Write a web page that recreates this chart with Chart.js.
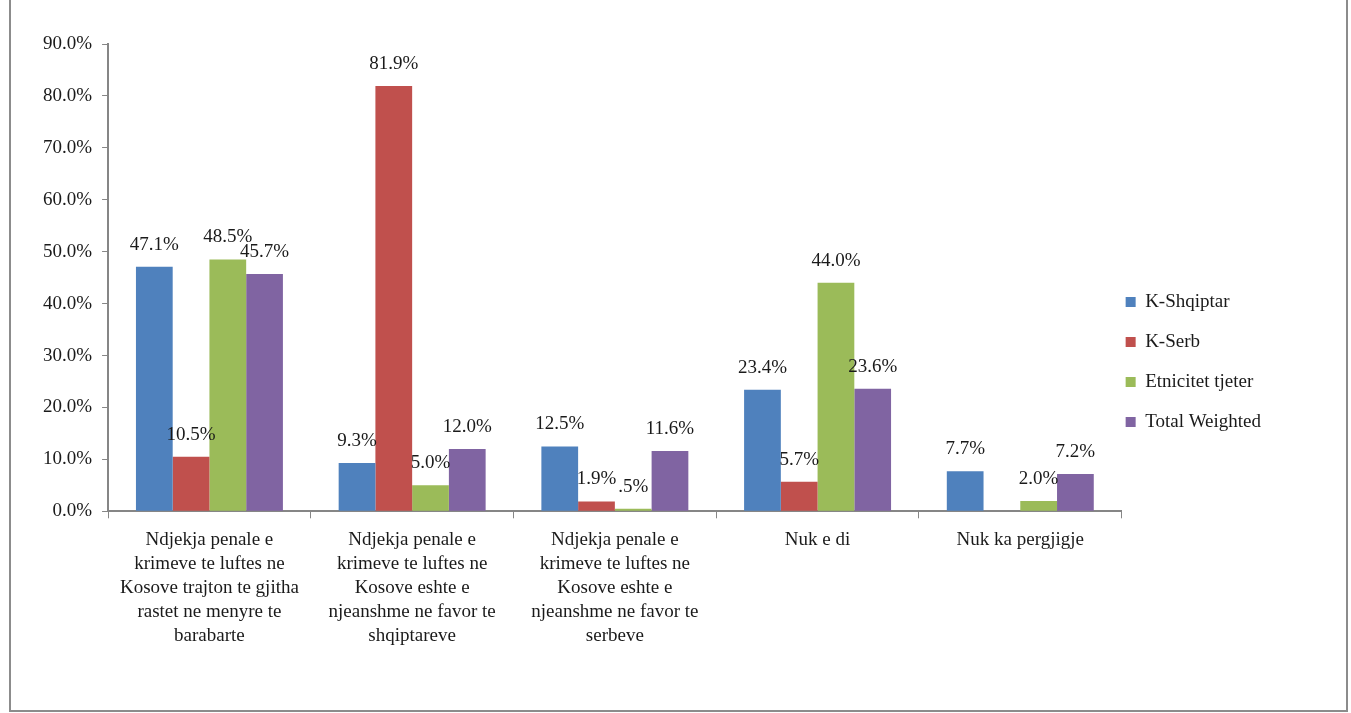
<!DOCTYPE html>
<html>
<head>
<meta charset="utf-8">
<script src="https://cdn.jsdelivr.net/npm/chart.js@4.4.1/dist/chart.umd.min.js"></script>
<style>
  html, body { margin: 0; padding: 0; background: #fff; }
  #wrap { position: relative; width: 1351px; height: 713px; }
</style>
</head>
<body>
<div id="wrap"><canvas id="c"></canvas></div>
<script>
var categories = [
	["Ndjekja penale e", "krimeve te luftes ne", "Kosove trajton te gjitha", "rastet ne menyre te", "barabarte"],
	["Ndjekja penale e", "krimeve te luftes ne", "Kosove eshte e", "njeanshme ne favor te", "shqiptareve"],
	["Ndjekja penale e", "krimeve te luftes ne", "Kosove eshte e", "njeanshme ne favor te", "serbeve"],
	"Nuk e di",
	"Nuk ka pergjigje"
];
var kShqiptar = [47.1, 9.3, 12.5, 23.4, 7.7];
var kSerb = [10.5, 81.9, 1.9, 5.7, null];
var etnicitetTjeter = [48.5, 5.0, 0.5, 44.0, 2.0];
var totalWeighted = [45.7, 12.0, 11.6, 23.6, 7.2];
var yTicks = [0, 10, 20, 30, 40, 50, 60, 70, 80, 90];

var FONT = "'Liberation Serif', 'DejaVu Serif', serif";
var AXIS = '#868686';

function pct(v) {
	var s = v.toFixed(1);
	if (s.charAt(0) === '0') s = s.slice(1);
	return s + '%';
}

// frame around the whole chart
var framePlugin = {
	id: 'frame',
	beforeDraw: function(chart) {
		var ctx = chart.ctx;
		ctx.save();
		ctx.fillStyle = '#fff';
		ctx.fillRect(0, 0, chart.width, chart.height);
		ctx.strokeStyle = '#8c8c8c';
		ctx.lineWidth = 2;
		ctx.strokeRect(10, -2, 1337, 713);
		ctx.restore();
	}
};

// nudge the legend closer to the plot and a bit lower, like the original
var legendShift = {
	id: 'legendShift',
	afterLayout: function(chart) {
		var lg = chart.legend;
		if (!lg) return;
		var dx = -17, dy = 11;
		lg.left += dx; lg.right += dx;
		lg.top += dy; lg.bottom += dy;
	}
};

// value labels above bars
var valuePlugin = {
	id: 'values',
	afterDatasetsDraw: function(chart) {
		var ctx = chart.ctx;
		ctx.save();
		ctx.font = '19px ' + FONT;
		ctx.fillStyle = '#1a1a1a';
		ctx.textAlign = 'center';
		ctx.textBaseline = 'alphabetic';
		chart.data.datasets.forEach(function(ds, i) {
			var meta = chart.getDatasetMeta(i);
			meta.data.forEach(function(bar, j) {
				var v = ds.data[j];
				if (v === null || v === undefined) return;
				ctx.fillText(pct(v), bar.x, bar.y - 17);
			});
		});
		ctx.restore();
	}
};

var config = {
	type: 'bar',
	data: {
		labels: categories,
		datasets: [{
			label: 'K-Shqiptar',
			data: kShqiptar,
			backgroundColor: '#4F81BD'
		}, {
			label: 'K-Serb',
			data: kSerb,
			backgroundColor: '#C0504D'
		}, {
			label: 'Etnicitet tjeter',
			data: etnicitetTjeter,
			backgroundColor: '#9BBB59'
		}, {
			label: 'Total Weighted',
			data: totalWeighted,
			backgroundColor: '#8064A2'
		}]
	},
	options: {
		responsive: false,
		animation: false,
		devicePixelRatio: 1,
		layout: {
			padding: { left: 33, right: 63, top: 44, bottom: 55 }
		},
		datasets: {
			bar: { barPercentage: 1.0, categoryPercentage: 0.725 }
		},
		plugins: {
			legend: {
				position: 'right',
				labels: {
					boxWidth: 10,
					boxHeight: 10,
					padding: 21,
					color: '#1a1a1a',
					font: { family: FONT, size: 19 }
				}
			},
			tooltip: { enabled: false }
		},
		scales: {
			x: {
				grid: {
					display: true,
					drawOnChartArea: false,
					offset: true,
					color: AXIS,
					tickLength: 7
				},
				border: { color: AXIS, width: 2 },
				ticks: {
					color: '#1a1a1a',
					maxRotation: 0,
					autoSkip: false,
					padding: 10,
					font: { family: FONT, size: 19, lineHeight: 1.26 }
				}
			},
			y: {
				min: 0,
				max: 90,
				afterBuildTicks: function(axis) {
					axis.ticks = yTicks.map(function(v) { return { value: v }; });
				},
				grid: {
					display: true,
					drawOnChartArea: false,
					color: AXIS,
					tickLength: 6
				},
				border: { color: AXIS, width: 2 },
				ticks: {
					color: '#1a1a1a',
					padding: 10,
					font: { family: FONT, size: 19 },
					callback: function(v) { return v.toFixed(1) + '%'; }
				}
			}
		}
	},
	plugins: [framePlugin, legendShift, valuePlugin]
};

var canvas = document.getElementById('c');
canvas.width = 1351;
canvas.height = 713;
window.myBar = new Chart(canvas, config);
</script>
</body>
</html>
